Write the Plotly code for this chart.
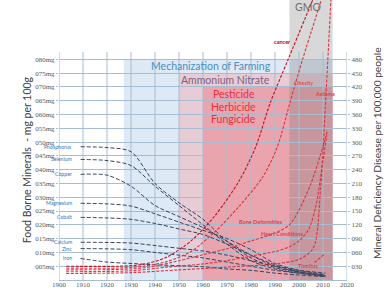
import plotly.graph_objects as go

# ---------------- data ----------------
mineral_names = ["Phosphorus", "Selenium", "Copper", "Magnesium", "Cobalt", "Calcium", "Zinc", "Iron"]
mineral_years = [1909, 1920, 1930, 1940, 1950, 1960, 1970, 1980, 1990, 2000, 2011]
phosphorus = [48.3, 48.0, 46.5, 35.0, 28.0, 22.0, 14.0, 8.0, 4.5, 2.8, 1.5]
selenium   = [43.7, 43.3, 41.5, 34.0, 27.0, 20.0, 13.0, 7.0, 4.0, 2.5, 1.2]
copper     = [38.3, 38.0, 34.0, 27.0, 23.0, 19.0, 14.0, 9.0, 5.0, 3.0, 1.8]
magnesium  = [27.8, 27.6, 26.8, 24.0, 21.0, 18.0, 15.0, 11.0, 6.0, 3.5, 2.0]
cobalt     = [22.7, 22.5, 22.0, 20.5, 18.5, 16.5, 13.0, 9.0, 5.5, 3.0, 1.5]
calcium    = [13.7, 13.6, 13.4, 12.5, 11.5, 10.5, 9.0, 7.0, 5.0, 3.5, 2.5]
zinc       = [11.4, 11.3, 11.0, 10.0, 9.0, 8.0, 6.5, 5.0, 3.5, 2.5, 1.5]
iron       = [7.8, 6.5, 6.0, 5.5, 5.2, 4.8, 4.0, 3.5, 2.5, 1.8, 1.2]
mineral_values = [phosphorus, selenium, copper, magnesium, cobalt, calcium, zinc, iron]

cancer_years = [1903, 1925, 1935, 1945, 1955, 1965, 1975, 1982, 1988, 1995.5, 2005.7]
cancer       = [30, 30, 34, 50, 85, 140, 215, 290, 385, 480, 609]
obesity_years = [1903, 1925, 1935, 1945, 1955, 1965, 1975, 1985, 1991, 1996.5, 2001.5, 2009.3]
obesity       = [26, 26, 30, 40, 62, 105, 160, 225, 290, 391, 480, 609]
bone_years = [1903, 1930, 1940, 1950, 1960, 1970, 1980, 1990, 1996, 2000, 2005, 2010, 2011.8]
bone       = [22, 24, 30, 42, 55, 68, 85, 102, 120, 152, 210, 290, 325]
heart_years = [1903, 1930, 1945, 1960, 1970, 1980, 1990, 1996, 2000, 2004, 2007, 2010, 2011.6]
heart       = [18, 20, 28, 35, 42, 52, 62, 72, 85, 110, 160, 260, 315]
asthma_years = [1903, 1930, 1950, 1970, 1990, 2000, 2006, 2009, 2011, 2013.3]
asthma       = [14, 16, 22, 28, 35, 45, 70, 200, 380, 609]
tinnitus_years = [2006.5, 2010.3]
tinnitus       = [38, 55]

x_ticks = list(range(1900, 2021, 10))
left_ticks = list(range(5, 81, 5))
left_ticktext = [f"{v:03d}mg" for v in left_ticks]
right_ticks = list(range(30, 481, 30))
right_ticktext = [f"{v:03d}" for v in right_ticks]

# ---------------- figure ----------------
fig = go.Figure()
navy = "#34445f"
red = "#dc3440"
grid = "#a7bcd0"

for name, vals in zip(mineral_names, mineral_values):
    fig.add_trace(go.Scatter(x=mineral_years, y=vals, mode="lines", name=name,
                             line=dict(color=navy, width=1.0, dash="4px,2px", shape="spline", smoothing=0.8),
                             yaxis="y"))

diseases = [
    ("cancer", cancer_years, cancer, "#c8101e"),
    ("Obesity", obesity_years, obesity, red),
    ("Bone Deformities", bone_years, bone, red),
    ("Heart Conditions", heart_years, heart, red),
    ("Asthma", asthma_years, asthma, red),
    ("Tinnitus", tinnitus_years, tinnitus, red),
]
for name, xs, ys, col in diseases:
    fig.add_trace(go.Scatter(x=xs, y=ys, mode="lines", name=name,
                             line=dict(color=col, width=1.1, dash="3px,1.5px", shape="spline", smoothing=0.8),
                             yaxis="y2"))

YTOP = 101.5
shapes = [
    dict(type="rect", xref="x", yref="y", x0=1927, x1=2014, y0=0, y1=80, fillcolor="#dde9f5", line_width=0, layer="below"),
    dict(type="rect", xref="x", yref="y", x0=1950, x1=2014, y0=0, y1=75, fillcolor="#e7ccd5", line_width=0, layer="below"),
    dict(type="rect", xref="x", yref="y", x0=1960, x1=2014, y0=0, y1=70, fillcolor="#e9a4ae", line_width=0, layer="below"),
    dict(type="rect", xref="x", yref="y", x0=1996, x1=2014, y0=0, y1=YTOP, fillcolor="rgba(115,115,115,0.28)", line_width=0, layer="below"),
]
for yr in x_ticks:
    shapes.append(dict(type="line", xref="x", yref="y", x0=yr, x1=yr, y0=0, y1=82.7,
                       line=dict(color=grid, width=1), layer="between"))

ann = []
# mineral labels at the start of each line
for name, vals in zip(mineral_names, mineral_values):
    ann.append(dict(x=1906.3, y=vals[0], xref="x", yref="y", text=name, showarrow=False,
                    xanchor="right", font=dict(family="Lato", size=5.2, color="#2e75b6")))
# band labels
ann += [
    dict(x=1963.2, y=77.6, xref="x", yref="y", text="Mechanization of Farming", showarrow=False,
         font=dict(family="Lato", size=10.5, color="#4a8fc2")),
    dict(x=1969.3, y=72.5, xref="x", yref="y", text="Ammonium Nitrate", showarrow=False,
         font=dict(family="Lato", size=10.5, color="#7d5f7e")),
    dict(x=1972.8, y=67.4, xref="x", yref="y", text="Pesticide", showarrow=False,
         font=dict(family="Lato", size=10.5, color="#e8303c")),
    dict(x=1972.8, y=62.8, xref="x", yref="y", text="Herbicide", showarrow=False,
         font=dict(family="Lato", size=10.5, color="#e8303c")),
    dict(x=1972.8, y=58.3, xref="x", yref="y", text="Fungicide", showarrow=False,
         font=dict(family="Lato", size=10.5, color="#e8303c")),
    dict(x=2003.6, y=98.9, xref="x", yref="y", text="GMO", showarrow=False,
         font=dict(family="Lato", size=10.5, color="#6e6e6e")),
]
# disease labels
dlab = [("cancer", 1993.2, 518, "#c00018"), ("Obesity", 2002.0, 428, "#e0505c"),
        ("Asthma", 2010.7, 404, "#e0404c"), ("Bone Deformities", 1984.3, 126, "#e0404c"),
        ("Heart Conditions", 1993.0, 100, "#e0404c"), ("Tinnitus", 2003.8, 30, "#e0404c")]
for t, xx, yy, c in dlab:
    ann.append(dict(x=xx, y=yy, xref="x", yref="y2", text=f"<b>{t}</b>", showarrow=False,
                    font=dict(family="Lato", size=5.5, color=c)))
# axis titles
ann += [
    dict(x=-0.14, y=0.43, xref="paper", yref="paper", text="Food Borne Minerals  - mg per 100g",
         textangle=-90, showarrow=False, font=dict(family="Lato", size=10.5, color="#404040")),
    dict(x=1.13, y=0.455, xref="paper", yref="paper", text="Mineral Deficiency Disease per 100,000 people",
         textangle=-90, showarrow=False, font=dict(family="Lato", size=10.2, color="#404040")),
]

tickfont = dict(family="Liberation Serif", size=7, color="#595959")
fig.update_layout(
    width=388, height=291,
    margin=dict(l=59, r=41, t=0, b=11, autoexpand=False),
    paper_bgcolor="white", plot_bgcolor="white",
    showlegend=False,
    shapes=shapes, annotations=ann,
    xaxis=dict(range=[1900, 2020], tickvals=x_ticks, showgrid=False, zeroline=False, automargin=False,
               showline=True, linecolor=grid, linewidth=1, ticks="", tickfont=tickfont,
               ticklabelstandoff=-2),
    yaxis=dict(range=[0, YTOP], tickvals=left_ticks, ticktext=left_ticktext, showgrid=True, automargin=False,
               gridcolor=grid, gridwidth=1, zeroline=False, showline=False, ticks="outside",
               ticklen=2, tickcolor=grid, tickfont=tickfont),
    yaxis2=dict(range=[0, YTOP * 6], overlaying="y", side="right", tickvals=right_ticks, automargin=False,
                ticktext=right_ticktext, showgrid=False, zeroline=False, showline=False,
                ticks="outside", ticklen=2, tickcolor=grid, tickfont=tickfont),
)

fig.write_html("out.html", config={"displayModeBar": False},
               post_script="document.body.style.margin='0';document.body.style.overflow='hidden';")
